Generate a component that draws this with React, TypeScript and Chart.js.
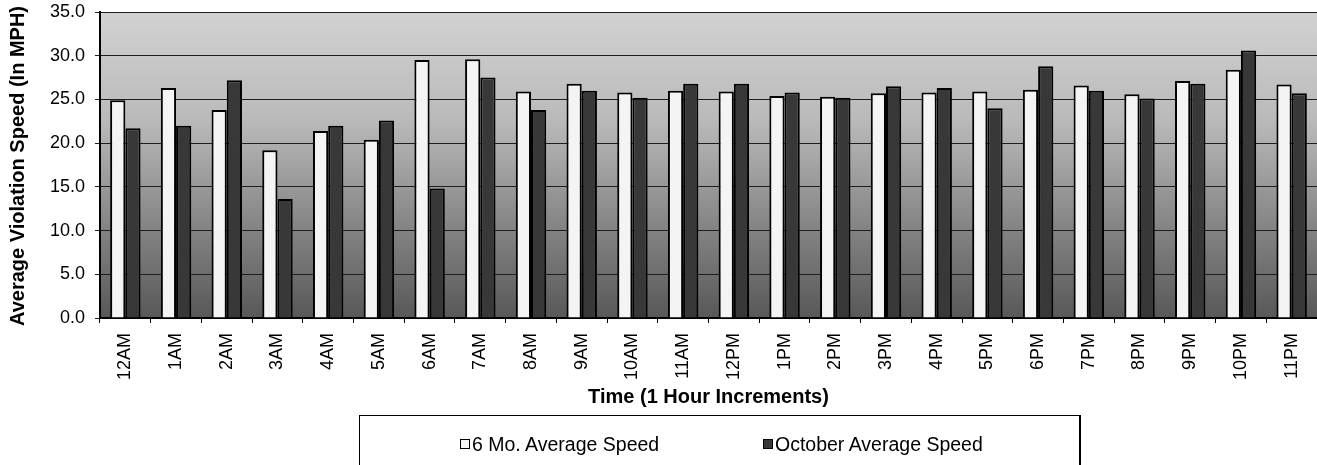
import React, { useEffect, useRef } from "react";
import { Chart, registerables } from "chart.js";

Chart.register(...registerables);

const hours = [
  "12AM", "1AM", "2AM", "3AM", "4AM", "5AM", "6AM", "7AM", "8AM", "9AM", "10AM", "11AM",
  "12PM", "1PM", "2PM", "3PM", "4PM", "5PM", "6PM", "7PM", "8PM", "9PM", "10PM", "11PM",
];
const sixMonthAvg = [
  24.9, 26.3, 23.8, 19.2, 21.4, 20.4, 29.5, 29.6, 25.9, 26.8, 25.8, 26.0,
  25.9, 25.4, 25.3, 25.7, 25.8, 25.9, 26.1, 26.6, 25.6, 27.1, 28.4, 26.7,
];
const octoberAvg = [
  21.7, 22.0, 27.2, 13.6, 22.0, 22.6, 14.8, 27.5, 23.8, 26.0, 25.2, 26.8,
  26.8, 25.8, 25.2, 26.5, 26.3, 24.0, 28.8, 26.0, 25.1, 26.8, 30.6, 25.7,
];
const seriesNames = ["6 Mo. Average Speed", "October Average Speed"];
const yMin = 0;
const yMax = 35;
const yStep = 5;
const xTitle = "Time (1 Hour Increments)";
const yTitle = "Average Violation Speed (In MPH)";

const FONT = "'Liberation Sans', Arial, Helvetica, sans-serif";
const LIGHT = "#f4f4f4";
const DARK = "#383838";

const bgPlugin = {
  id: "plotBg",
  beforeDraw(chart: any) {
    const { ctx, chartArea } = chart;
    if (!chartArea) return;
    const g = ctx.createLinearGradient(0, chartArea.top, 0, chartArea.bottom);
    g.addColorStop(0, "#d2d2d2");
    g.addColorStop(0.35, "#bababa");
    g.addColorStop(0.7, "#858585");
    g.addColorStop(1, "#585858");
    ctx.save();
    ctx.fillStyle = g;
    ctx.fillRect(chartArea.left, chartArea.top, chartArea.right - chartArea.left, chartArea.bottom - chartArea.top);
    ctx.restore();
  },
};

const yTitlePlugin = {
  id: "yTitle",
  afterDraw(chart: any) {
    const { ctx, chartArea } = chart;
    ctx.save();
    ctx.translate(18, (chartArea.top + chartArea.bottom) / 2 + 1);
    ctx.rotate(-Math.PI / 2);
    ctx.font = `bold 20px ${FONT}`;
    ctx.fillStyle = "#000";
    ctx.textAlign = "center";
    ctx.textBaseline = "middle";
    ctx.fillText(yTitle, 0, 0);
    ctx.restore();
  },
};

export default function App() {
  const ref = useRef<HTMLCanvasElement | null>(null);

  useEffect(() => {
    if (!ref.current) return;
    const chart = new Chart(ref.current, {
      type: "bar",
      data: {
        labels: hours,
        datasets: [
          {
            label: seriesNames[0],
            data: sixMonthAvg,
            backgroundColor: LIGHT,
            borderColor: "#000",
            borderWidth: 2,
            categoryPercentage: 0.6,
            barPercentage: 1.0,
          },
          {
            label: seriesNames[1],
            data: octoberAvg,
            backgroundColor: DARK,
            borderColor: "#000",
            borderWidth: 2,
            categoryPercentage: 0.6,
            barPercentage: 1.0,
          },
        ],
      },
      options: {
        animation: false,
        responsive: false,
        maintainAspectRatio: false,
        layout: { padding: { top: 12, right: 0, left: 0, bottom: 0 } },
        plugins: {
          legend: { display: false },
          tooltip: { enabled: false },
        },
        scales: {
          x: {
            offset: true,
            grid: {
              display: true,
              drawOnChartArea: false,
              drawTicks: true,
              tickLength: 5,
              color: "#000",
              offset: true,
            },
            border: { display: true, color: "#000", width: 2 },
            ticks: {
              autoSkip: false,
              maxRotation: 90,
              minRotation: 90,
              padding: 10,
              color: "#000",
              font: { family: FONT, size: 18 },
            },
            title: {
              display: true,
              text: xTitle,
              color: "#000",
              font: { family: FONT, size: 20, weight: "bold" },
              padding: { top: 0, bottom: 56 },
            },
            afterFit: (scale: any) => {
              scale.height = 147;
              scale.paddingLeft = 0;
              scale.paddingRight = 0;
            },
          },
          y: {
            min: yMin,
            max: yMax,
            grid: {
              color: "#1e1e1e",
              lineWidth: 1,
              tickLength: 5,
              drawTicks: true,
            },
            border: { display: true, color: "#000", width: 2 },
            ticks: {
              stepSize: yStep,
              padding: 10,
              color: "#000",
              font: { family: FONT, size: 18 },
              callback: (v: any) => Number(v).toFixed(1),
            },
            afterFit: (scale: any) => {
              scale.width = 100;
              scale.paddingTop = 0;
              scale.paddingBottom = 0;
            },
          },
        },
      },
      plugins: [bgPlugin, yTitlePlugin],
    });
    return () => chart.destroy();
  }, []);

  const legendText: React.CSSProperties = {
    fontFamily: FONT,
    fontSize: "19.5px",
    color: "#000",
    position: "absolute",
    top: 16,
    lineHeight: "24px",
    whiteSpace: "nowrap",
  };
  const swatch = (bg: string): React.CSSProperties => ({
    display: "inline-block",
    width: 8,
    height: 8,
    border: "1px solid #000",
    background: bg,
    marginRight: 2,
    verticalAlign: "middle",
    position: "relative",
    top: -2,
  });

  return (
    <div style={{ position: "fixed", left: 0, top: 0, width: 1317, height: 465, overflow: "hidden", background: "#fff" }}>
      <canvas ref={ref} width={1317} height={465} style={{ display: "block" }} />
      <div
        style={{
          position: "absolute",
          left: 359,
          top: 415,
          width: 719,
          height: 60,
          borderTop: "1px solid #000",
          borderLeft: "1px solid #000",
          borderRight: "2px solid #000",
        }}
      >
        <div style={{ ...legendText, left: 100 }}>
          <span style={swatch(LIGHT)} />
          {seriesNames[0]}
        </div>
        <div style={{ ...legendText, left: 403 }}>
          <span style={swatch(DARK)} />
          {seriesNames[1]}
        </div>
      </div>
    </div>
  );
}
